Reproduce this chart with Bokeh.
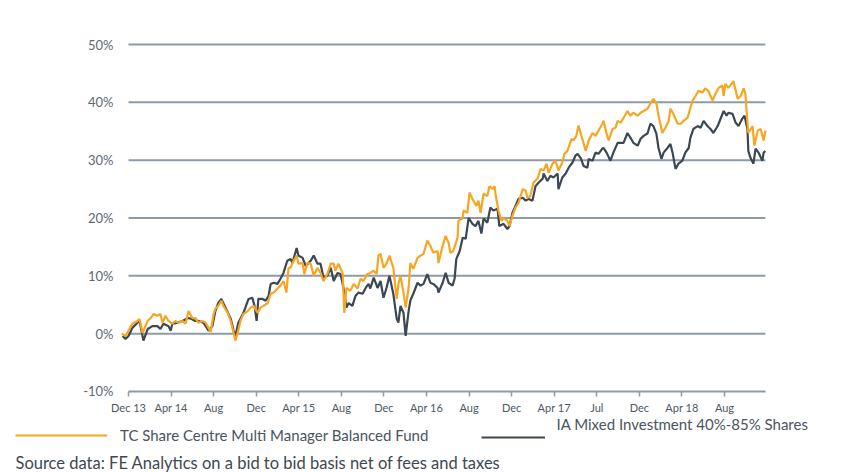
from bokeh.plotting import figure
from bokeh.models import FixedTicker, PrintfTickFormatter, Legend, LegendItem, Label
from bokeh.embed import file_html
from bokeh.resources import INLINE

# ---------------- data ----------------
tick_labels = ["Dec 13", "Apr 14", "Aug", "Dec", "Apr 15", "Aug", "Dec", "Apr 16",
               "Aug", "Dec", "Apr 17", "Jul", "Dec", "Apr 18", "Aug"]
tick_pos = list(range(len(tick_labels)))          # period index of each label
y_ticks = [-10, 0, 10, 20, 30, 40, 50]

series_names = ["TC Share Centre Multi Manager Balanced Fund",
                "IA Mixed Investment 40%-85% Shares"]
source_note = "Source data: FE Analytics on a bid to bid basis net of fees and taxes"

# cumulative performance, %, x in period-index units
fund_x = [-0.16, -0.07, 0.09, 0.21, 0.26, 0.33, 0.45, 0.52, 0.59, 0.68, 0.75, 0.80, 0.87, 0.94,
          1.03, 1.10, 1.17, 1.27, 1.34, 1.41, 1.50, 1.57, 1.64, 1.74, 1.81, 1.88, 1.93, 2.00,
          2.04, 2.11, 2.18, 2.23, 2.33, 2.40, 2.47, 2.51, 2.56, 2.63, 2.70, 2.80, 2.87, 2.94,
          3.03, 3.10, 3.17, 3.27, 3.34, 3.41, 3.50, 3.57, 3.64, 3.71, 3.76, 3.81, 3.85, 3.95,
          3.99, 4.09, 4.13, 4.20, 4.28, 4.35, 4.44, 4.51, 4.58, 4.67, 4.75, 4.82, 4.86, 4.93,
          5.03, 5.07, 5.12, 5.21, 5.29, 5.38, 5.45, 5.52, 5.61, 5.68, 5.76, 5.83, 5.87, 5.92,
          5.99, 6.06, 6.13, 6.22, 6.30, 6.34, 6.39, 6.46, 6.51, 6.58, 6.62, 6.69, 6.79, 6.86,
          6.93, 7.02, 7.09, 7.16, 7.26, 7.28, 7.38, 7.45, 7.52, 7.56, 7.63, 7.73, 7.75, 7.85,
          7.87, 7.96, 8.01, 8.08, 8.17, 8.22, 8.27, 8.34, 8.43, 8.48, 8.55, 8.60, 8.62, 8.69,
          8.76, 8.81, 8.90, 8.95, 9.02, 9.09, 9.16, 9.26, 9.33, 9.37, 9.44, 9.51, 9.61, 9.68,
          9.75, 9.82, 9.87, 9.96, 10.03, 10.10, 10.19, 10.24, 10.31, 10.41, 10.45, 10.52, 10.57,
          10.66, 10.74, 10.81, 10.90, 10.97, 11.04, 11.13, 11.16, 11.23, 11.28, 11.37, 11.44,
          11.49, 11.56, 11.63, 11.72, 11.79, 11.86, 11.96, 12.03, 12.10, 12.19, 12.26, 12.33,
          12.40, 12.45, 12.54, 12.61, 12.69, 12.73, 12.80, 12.90, 12.97, 13.04, 13.13, 13.25,
          13.32, 13.39, 13.48, 13.55, 13.62, 13.72, 13.79, 13.86, 13.95, 13.98, 14.02, 14.09,
          14.19, 14.21, 14.31, 14.38, 14.45, 14.49, 14.54, 14.56, 14.66, 14.70, 14.78, 14.85,
          14.92, 14.96]
fund_y = [0.0, -0.4, 1.7, 2.2, 2.5, 0.1, 2.2, 2.7, 3.4, 3.1, 3.4, 1.9, 3.1, 2.2,
          1.7, 2.2, 1.9, 2.2, 1.7, 3.9, 2.7, 2.7, 1.9, 2.2, 1.9, 1.0, 0.3, 3.4,
          4.3, 4.8, 5.7, 4.8, 3.6, 2.2, 0.1, -1.2, 0.0, 2.2, 3.4, 3.9, 4.5, 4.8,
          3.6, 4.5, 4.8, 5.3, 6.9, 7.1, 7.8, 8.3, 9.1, 7.1, 11.4, 11.4, 12.2, 13.5,
          12.1, 12.2, 10.3, 12.2, 12.1, 10.0, 11.4, 10.5, 9.1, 10.3, 12.1, 12.1, 10.9, 12.1,
          10.5, 3.6, 7.9, 7.4, 8.6, 7.8, 9.5, 9.1, 10.3, 10.5, 10.9, 10.3, 13.5, 13.8,
          11.4, 12.1, 13.5, 11.4, 6.0, 8.6, 10.0, 7.1, 4.5, 7.9, 12.2, 11.2, 13.1, 13.5,
          13.8, 16.1, 15.2, 14.0, 14.3, 12.2, 15.2, 16.9, 15.7, 14.0, 14.3, 16.6, 19.5, 20.0,
          21.3, 20.9, 24.4, 23.3, 22.1, 23.0, 20.9, 24.2, 23.8, 25.5, 25.0, 25.5, 24.2, 21.3,
          19.5, 20.0, 19.5, 18.6, 20.4, 21.8, 22.6, 25.0, 24.7, 23.5, 23.8, 26.1, 26.8, 28.5,
          28.2, 29.4, 27.8, 29.4, 29.9, 28.2, 29.6, 31.1, 31.6, 33.7, 33.4, 34.2, 36.0,
          33.7, 31.6, 33.4, 34.7, 34.2, 35.1, 36.3, 36.8, 34.6, 33.4, 35.4, 35.6,
          36.8, 36.5, 37.3, 38.5, 37.7, 38.2, 37.7, 38.2, 38.5, 38.9, 39.8, 40.6,
          39.8, 37.7, 34.7, 35.6, 36.8, 38.9, 38.0, 36.3, 36.3, 36.8, 37.3, 40.3,
          41.1, 42.0, 41.7, 42.4, 42.0, 40.3, 41.5, 42.5, 42.9, 41.1, 43.2, 42.5,
          43.4, 43.7, 40.6, 41.1, 42.4, 41.5, 36.5, 34.7, 35.9, 32.5, 35.1, 35.4,
          33.4, 35.1]

sector_x = [-0.14, -0.07, 0.00, 0.09, 0.21, 0.26, 0.35, 0.45, 0.56, 0.68, 0.75, 0.82, 0.94, 0.99,
            1.03, 1.15, 1.27, 1.39, 1.46, 1.57, 1.64, 1.76, 1.88, 1.97, 2.04, 2.11, 2.18, 2.28,
            2.40, 2.47, 2.51, 2.58, 2.70, 2.82, 2.91, 2.96, 3.01, 3.05, 3.15, 3.22, 3.29, 3.34,
            3.41, 3.50, 3.57, 3.64, 3.73, 3.81, 3.85, 3.95, 3.99, 4.09, 4.16, 4.23, 4.28, 4.35,
            4.44, 4.51, 4.58, 4.67, 4.75, 4.82, 4.91, 4.98, 5.05, 5.12, 5.17, 5.26, 5.33, 5.40,
            5.50, 5.57, 5.64, 5.68, 5.76, 5.85, 5.92, 5.99, 6.06, 6.13, 6.22, 6.30, 6.34, 6.39,
            6.46, 6.51, 6.58, 6.62, 6.69, 6.79, 6.86, 6.93, 7.02, 7.09, 7.16, 7.26, 7.28, 7.38,
            7.45, 7.52, 7.61, 7.66, 7.70, 7.78, 7.85, 7.92, 7.99, 8.08, 8.15, 8.22, 8.29, 8.34,
            8.43, 8.50, 8.57, 8.67, 8.71, 8.81, 8.90, 8.95, 9.02, 9.09, 9.16, 9.26, 9.33, 9.40,
            9.49, 9.56, 9.63, 9.73, 9.75, 9.84, 9.91, 9.98, 10.08, 10.10, 10.19, 10.27, 10.34,
            10.43, 10.50, 10.55, 10.62, 10.69, 10.78, 10.81, 10.90, 10.97, 11.04, 11.13, 11.16,
            11.23, 11.32, 11.39, 11.49, 11.56, 11.63, 11.72, 11.79, 11.86, 11.96, 12.03, 12.10,
            12.19, 12.26, 12.33, 12.40, 12.45, 12.52, 12.57, 12.66, 12.73, 12.78, 12.85, 12.92,
            13.01, 13.08, 13.16, 13.20, 13.27, 13.37, 13.44, 13.51, 13.60, 13.67, 13.74, 13.84,
            13.91, 13.98, 14.05, 14.09, 14.19, 14.26, 14.33, 14.42, 14.47, 14.54, 14.56, 14.61,
            14.68, 14.73, 14.80, 14.89, 14.92, 14.96]
sector_y = [-0.4, -0.9, -0.4, 1.0, 1.9, 2.2, -1.2, 0.8, 1.3, 1.3, 0.8, 1.7, 1.3, 0.5,
            1.7, 1.9, 2.2, 2.7, 2.6, 2.2, 2.2, 1.9, 0.5, 1.3, 3.9, 5.3, 6.0, 4.5,
            2.6, 0.5, -0.4, 1.9, 3.6, 6.0, 6.2, 4.8, 2.2, 6.0, 6.0, 5.7, 6.5, 8.6,
            8.8, 8.6, 9.5, 10.5, 12.6, 12.9, 12.2, 14.8, 13.5, 13.1, 11.7, 12.2, 12.6, 13.5,
            12.1, 12.1, 9.7, 10.0, 11.4, 9.1, 10.5, 10.3, 7.9, 4.5, 5.3, 4.8, 6.5, 7.1,
            6.9, 7.9, 8.6, 7.8, 9.7, 7.9, 9.1, 6.2, 7.9, 10.0, 6.9, 2.6, 1.9, 4.8,
            3.6, -0.4, 3.9, 5.7, 6.9, 8.8, 8.3, 8.6, 10.3, 8.8, 8.6, 7.9, 7.1, 8.8,
            10.5, 8.8, 8.3, 9.5, 12.9, 14.3, 16.6, 16.4, 20.0, 19.0, 18.6, 19.5, 17.3, 19.9,
            19.2, 21.8, 21.3, 21.6, 18.6, 19.0, 18.1, 18.6, 20.9, 22.1, 23.3, 23.5, 23.0, 23.3,
            23.0, 25.5, 26.1, 26.8, 27.7, 26.4, 27.3, 27.0, 27.7, 25.0, 27.0, 27.7, 28.7,
            29.6, 30.8, 31.1, 30.4, 29.0, 28.7, 30.2, 29.9, 31.3, 31.1, 32.0, 32.1,
            31.3, 29.9, 31.3, 33.0, 33.0, 33.0, 34.7, 33.9, 33.0, 32.5, 33.7, 34.2,
            34.6, 36.3, 35.9, 34.6, 32.1, 30.2, 31.3, 32.1, 32.8, 31.3, 28.5, 29.4,
            29.9, 31.3, 32.1, 33.9, 35.4, 35.9, 35.6, 36.8, 35.9, 35.4, 34.7, 35.9,
            37.2, 38.5, 37.7, 38.2, 38.0, 36.5, 35.9, 37.2, 37.7, 35.4, 31.6, 30.4,
            29.4, 32.0, 31.3, 29.9, 31.3, 31.6]

# ---------------- style ----------------
ORANGE = "#f6a623"
DARK = "#3b4753"
GRID = "#8e9ba6"
FONT = "Lato"
TEXT = "#4a545e"

# the frame fills the whole canvas; axes are pinned inside it with fixed_location
p = figure(width=860, height=472, x_range=(-3.007, 17.195), y_range=(-24.01, 57.61),
           output_backend="svg", toolbar_location=None, min_border=0)
p.background_fill_color = "white"
p.border_fill_color = "white"
p.outline_line_color = None
p.xgrid.visible = False
p.ygrid.visible = False

# horizontal gridlines over the span of the dated axis
gl = y_ticks[1:]
r_grid = p.segment(x0=[tick_pos[0]] * len(gl), x1=[max(fund_x)] * len(gl), y0=gl, y1=gl,
                   line_color=GRID, line_width=2, level="underlay")

r_sector = p.line(sector_x, sector_y, line_color=DARK, line_width=2.2)
r_fund = p.line(fund_x, fund_y, line_color=ORANGE, line_width=2.2)

# x axis, drawn along the -10% line
xa = p.xaxis[0]
xa.fixed_location = y_ticks[0]
xa.ticker = FixedTicker(ticks=tick_pos)
xa.major_label_overrides = {t: lab for t, lab in zip(tick_pos, tick_labels)}
xa.bounds = (tick_pos[0], max(fund_x))
xa.axis_line_color = GRID
xa.axis_line_width = 2
xa.major_tick_line_color = GRID
xa.major_tick_line_width = 1.5
xa.major_tick_in = 0
xa.major_tick_out = 5
xa.minor_tick_line_color = None
xa.major_label_standoff = 5
xa.major_label_text_font = FONT
xa.major_label_text_font_size = "11px"
xa.major_label_text_color = "#4d5863"

# y axis, just left of the gridlines
ya = p.yaxis[0]
ya.fixed_location = -0.188
ya.ticker = FixedTicker(ticks=y_ticks)
ya.formatter = PrintfTickFormatter(format="%d%%")
ya.axis_line_color = None
ya.major_tick_line_color = None
ya.minor_tick_line_color = None
ya.major_tick_out = 0
ya.major_tick_in = 0
ya.major_label_standoff = 7
ya.major_label_text_font = FONT
ya.major_label_text_font_size = "13px"
ya.major_label_text_color = "#5d6872"


# ---------------- legend + source note ----------------
def make_legend(item, loc, glyph_w, standoff):
    return Legend(items=[item], location=loc, orientation="horizontal",
                  glyph_width=glyph_w, glyph_height=20, label_height=20,
                  label_standoff=standoff, padding=0, margin=0, spacing=0,
                  border_line_color=None, background_fill_alpha=0,
                  label_text_font=FONT, label_text_font_size="15px",
                  label_text_color=TEXT)


leg_a = make_legend(LegendItem(label=series_names[0], renderers=[r_fund]), (15, 27), 92, 13)
leg_b = make_legend(LegendItem(label=" ", renderers=[r_sector]), (481, 25), 64, 0)
p.add_layout(leg_a)
p.add_layout(leg_b)

lab_b = Label(x=556, y=49, x_units="screen", y_units="screen", text=series_names[1],
              text_font=FONT, text_font_size="15px", text_color=TEXT,
              text_baseline="middle", text_align="left")
src = Label(x=15, y=10, x_units="screen", y_units="screen", text=source_note,
            text_font=FONT, text_font_size="16.5px", text_color="#3e4852",
            text_baseline="middle", text_align="left")
p.add_layout(lab_b)
p.add_layout(src)

open("out.html", "w").write(file_html(p, INLINE))
